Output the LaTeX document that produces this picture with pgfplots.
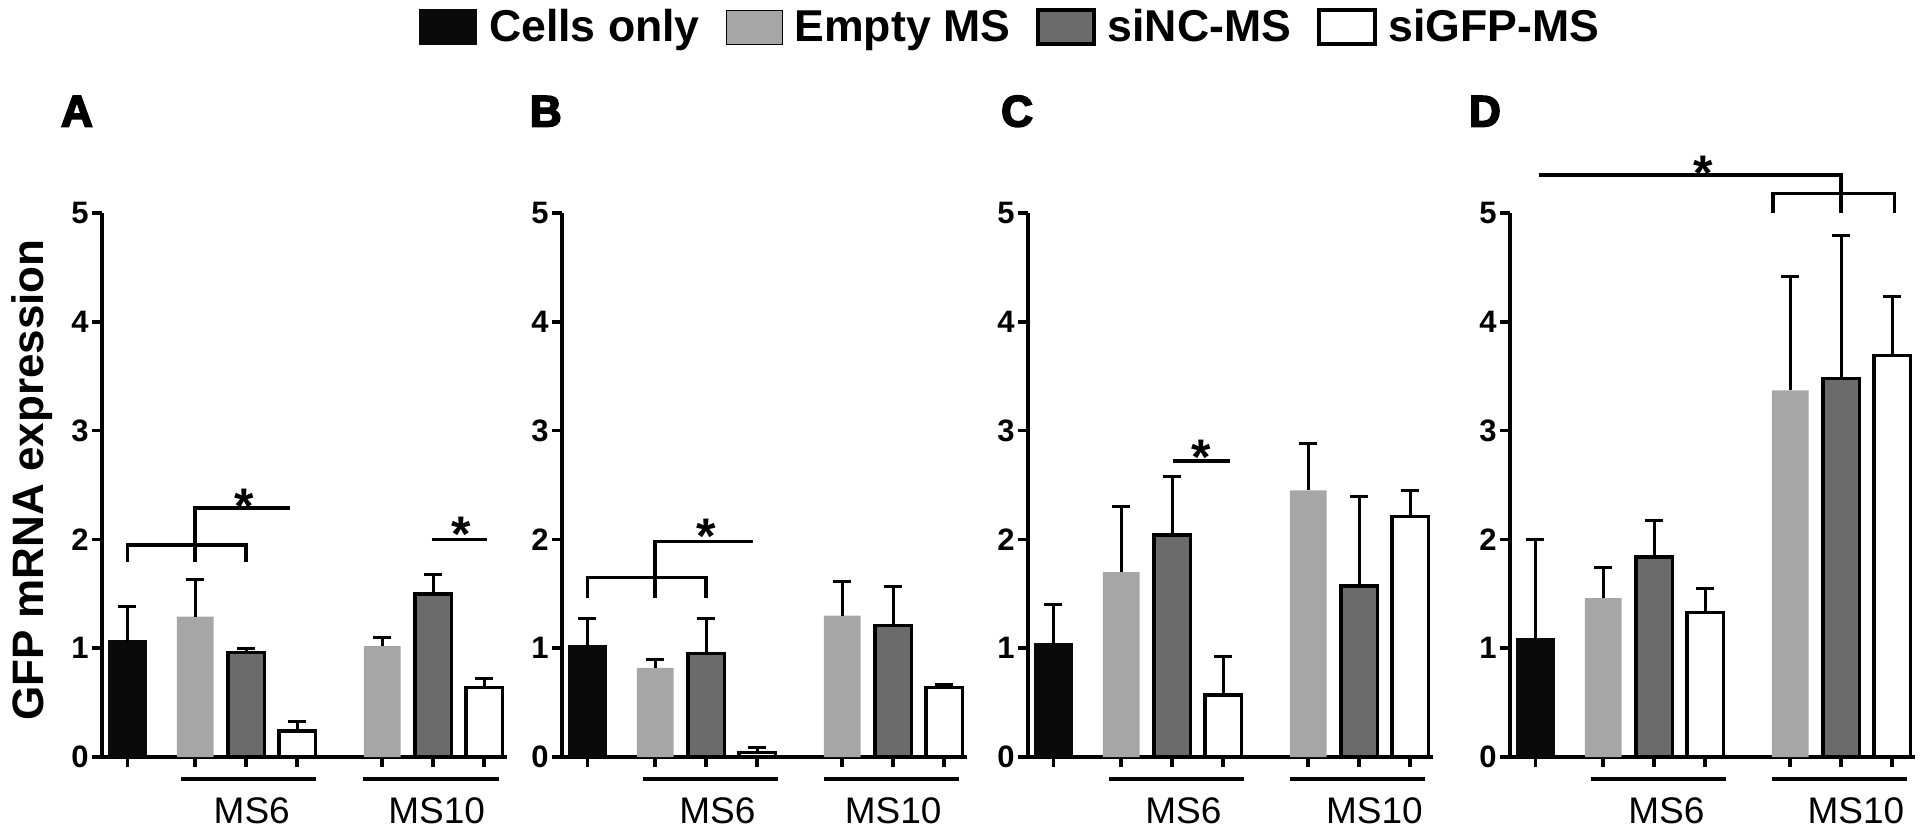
\documentclass[border=0pt]{standalone}
\usepackage{pgfplots}
\pgfplotsset{compat=1.18}
\usepackage{fontspec}
\setmainfont{Liberation Sans}
\newfontfamily\heavyfont[FakeBold=4]{Liberation Sans Bold}
\definecolor{cellsc}{HTML}{0A0A0A}
\definecolor{emptyc}{HTML}{A6A6A6}
\definecolor{sincc}{HTML}{6B6B6B}
\tikzset{
  sig/.style={line width=1.8pt, black},
  star/.style={font=\fontsize{25}{25}\selectfont\bfseries, yshift=-5pt},
  grp/.style={font=\fontsize{18.5}{18.5}\selectfont},
}
\pgfplotsset{
  panel/.style={
    scale only axis, width=202.5pt, height=272pt,
    xmin=-0.5, xmax=7.45, ymin=0, ymax=5,
    axis x line=bottom, axis y line=left,
    axis line style={line width=1.8pt, -},
    xtick={0,1.33,2.33,3.33,5,6,7}, xticklabels={},
    ytick={0,1,2,3,4,5},
    tick align=outside, major tick length=5pt,
    tick style={line width=1.8pt, black},
    yticklabel style={font=\fontsize{15.5}{15.5}\selectfont\bfseries, inner sep=1.5pt},
    /pgf/number format/assume math mode=true,
    ybar, bar width=0.72,
    clip=false,
    title style={font=\fontsize{22}{22}\selectfont\heavyfont, anchor=center},
  },
  errs/.style={bar shift=0pt,
    /pgfplots/error bars/y dir=plus, /pgfplots/error bars/y explicit,
    /pgfplots/error bars/error bar style={draw=black, line width=1.5pt},
    /pgfplots/error bars/error mark options={draw=black, rotate=90, mark size=4.5pt, line width=1.5pt}},
  cellsbar/.style={errs, fill=cellsc, draw=cellsc, line width=1.2pt},
  emptybar/.style={errs, fill=emptyc, draw=none},
  sincbar/.style={errs, fill=sincc, draw=black, line width=1.8pt},
  sigfpbar/.style={errs, fill=white, draw=black, line width=1.8pt},
}
\begin{document}
\begin{tikzpicture}
\useasboundingbox (0,0) rectangle (960pt,-415.5pt);

% ---------------- Panel A ----------------
\begin{axis}[panel, at={(51pt,-378.5pt)}, anchor=south west,
  title={A}, title style={at={(axis description cs:-0.062,1.165)}},
  ylabel={GFP mRNA expression},
  ylabel style={at={(axis description cs:-0.172,0.509)}, anchor=center,
    font=\fontsize{22}{22}\selectfont\bfseries},
  legend columns=4,
  legend style={at={(axis description cs:2.247,1.342)}, anchor=center,
    draw=none, fill=none, font=\fontsize{22.3}{22.3}\selectfont\bfseries,
    /tikz/every odd column/.append style={column sep=3pt},
    /tikz/every even column/.append style={column sep=10pt},
    nodes={inner sep=3pt}},
  legend image code/.code={\draw[#1,/tikz/.cd,yshift=0pt] (0pt,-8.5pt) rectangle (28pt,8.5pt);},
]
\addplot[cellsbar] coordinates {(0,1.06) +- (0,0.32)};
\addlegendentry{Cells only}
\addplot[emptybar] coordinates {(1.33,1.29) +- (0,0.34) (5,1.02) +- (0,0.08)};
\addlegendentry{Empty MS}
\addplot[sincbar] coordinates {(2.33,0.96) +- (0,0.04) (6,1.50) +- (0,0.18)};
\addlegendentry{siNC-MS}
\addplot[sigfpbar] coordinates {(3.33,0.24) +- (0,0.09) (7,0.64) +- (0,0.08)};
\addlegendentry{siGFP-MS}
\draw[sig] (axis cs:0,1.79) -- (axis cs:0,1.95) -- (axis cs:2.33,1.95) -- (axis cs:2.33,1.79);
\draw[sig] (axis cs:1.33,1.79) -- (axis cs:1.33,2.29) -- (axis cs:3.2,2.29);
\node[star] at (axis cs:2.3,2.40) {*};
\draw[sig] (axis cs:5.97,2.0) -- (axis cs:7.05,2.0);
\node[star] at (axis cs:6.56,2.14) {*};
\draw[sig] (axis cs:1.06,-0.2) -- (axis cs:3.71,-0.2);
\draw[sig] (axis cs:4.63,-0.2) -- (axis cs:7.3,-0.2);
\node[grp] at (axis cs:2.44,-0.49) {MS6};
\node[grp] at (axis cs:6.07,-0.49) {MS10};
\end{axis}

% ---------------- Panel B ----------------
\begin{axis}[panel, at={(281pt,-378.5pt)}, anchor=south west,
  title={B}, title style={at={(axis description cs:-0.04,1.165)}}]
\addplot[cellsbar] coordinates {(0,1.02) +- (0,0.25)};
\addplot[emptybar] coordinates {(1.33,0.82) +- (0,0.08) (5,1.30) +- (0,0.31)};
\addplot[sincbar] coordinates {(2.33,0.95) +- (0,0.32) (6,1.21) +- (0,0.36)};
\addplot[sigfpbar] coordinates {(3.33,0.04) +- (0,0.05) (7,0.64) +- (0,0.03)};
\draw[sig] (axis cs:0,1.46) -- (axis cs:0,1.65) -- (axis cs:2.33,1.65) -- (axis cs:2.33,1.46);
\draw[sig] (axis cs:1.33,1.46) -- (axis cs:1.33,1.98) -- (axis cs:3.24,1.98);
\node[star] at (axis cs:2.34,2.12) {*};
\draw[sig] (axis cs:1.08,-0.2) -- (axis cs:3.73,-0.2);
\draw[sig] (axis cs:4.65,-0.2) -- (axis cs:7.3,-0.2);
\node[grp] at (axis cs:2.55,-0.49) {MS6};
\node[grp] at (axis cs:6.0,-0.49) {MS10};
\end{axis}

% ---------------- Panel C ----------------
\begin{axis}[panel, at={(514pt,-378.5pt)}, anchor=south west,
  title={C}, title style={at={(axis description cs:-0.027,1.165)}}]
\addplot[cellsbar] coordinates {(0,1.04) +- (0,0.36)};
\addplot[emptybar] coordinates {(1.33,1.70) +- (0,0.60) (5,2.45) +- (0,0.43)};
\addplot[sincbar] coordinates {(2.33,2.04) +- (0,0.54) (6,1.57) +- (0,0.82)};
\addplot[sigfpbar] coordinates {(3.33,0.57) +- (0,0.35) (7,2.21) +- (0,0.24)};
\draw[sig] (axis cs:2.34,2.72) -- (axis cs:3.46,2.72);
\node[star] at (axis cs:2.9,2.85) {*};
\draw[sig] (axis cs:1.08,-0.2) -- (axis cs:3.73,-0.2);
\draw[sig] (axis cs:4.64,-0.2) -- (axis cs:7.29,-0.2);
\node[grp] at (axis cs:2.55,-0.49) {MS6};
\node[grp] at (axis cs:6.3,-0.49) {MS10};
\end{axis}

% ---------------- Panel D ----------------
\begin{axis}[panel, at={(755pt,-378.5pt)}, anchor=south west,
  title={D}, title style={at={(axis description cs:-0.062,1.165)}}]
\addplot[cellsbar] coordinates {(0,1.08) +- (0,0.92)};
\addplot[emptybar] coordinates {(1.33,1.46) +- (0,0.28) (5,3.37) +- (0,1.05)};
\addplot[sincbar] coordinates {(2.33,1.84) +- (0,0.33) (6,3.48) +- (0,1.31)};
\addplot[sigfpbar] coordinates {(3.33,1.33) +- (0,0.22) (7,3.69) +- (0,0.54)};
\draw[sig] (axis cs:0.06,5.35) -- (axis cs:6.0,5.35) -- (axis cs:6.0,5.0);
\draw[sig] (axis cs:4.66,5.0) -- (axis cs:4.66,5.18) -- (axis cs:7.05,5.18) -- (axis cs:7.05,5.0);
\node[star] at (axis cs:3.3,5.46) {*};
\draw[sig] (axis cs:1.08,-0.2) -- (axis cs:3.73,-0.2);
\draw[sig] (axis cs:4.64,-0.2) -- (axis cs:7.29,-0.2);
\node[grp] at (axis cs:2.57,-0.49) {MS6};
\node[grp] at (axis cs:6.29,-0.49) {MS10};
\end{axis}
\end{tikzpicture}
\end{document}
